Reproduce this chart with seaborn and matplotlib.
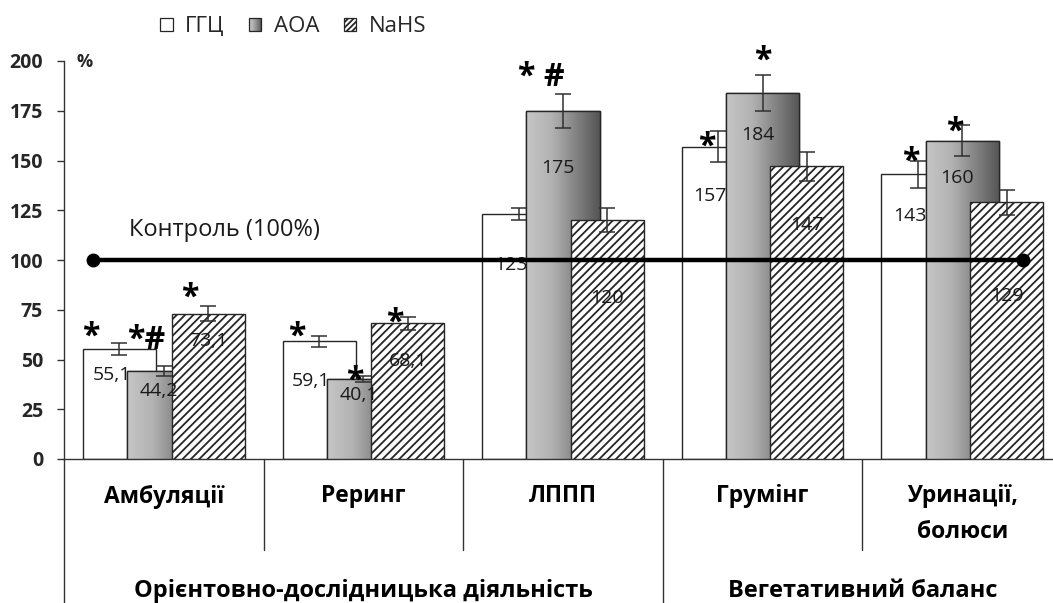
import numpy as np
import pandas as pd
import matplotlib
matplotlib.use("Agg")
import matplotlib.pyplot as plt
import seaborn as sns
from matplotlib.patches import Patch, Rectangle
from matplotlib.colors import LinearSegmentedColormap
from matplotlib.legend_handler import HandlerBase

# ---------------- data ----------------
categories = ["Амбуляції", "Реринг", "ЛППП", "Грумінг", "Уринації,\nболюси"]
groups = ["Орієнтовно-дослідницька діяльність", "Вегетативний баланс"]
group_sizes = [3, 2]
series = ["ГГЦ", "АОА", "NaHS"]
ggc = [55.1, 59.1, 123, 157, 143]
aoa = [44.2, 40.1, 175, 184, 160]
nahs = [73.1, 68.1, 120, 147, 129]
ggc_err = [3.0, 2.9, 3.1, 7.9, 7.0]
aoa_err = [2.3, 1.5, 8.6, 9.2, 7.7]
nahs_err = [3.8, 3.2, 6.1, 7.1, 6.4]
ggc_sig = ["*", "*", "", "*", "*"]
aoa_sig = ["*#", "*", "* #", "*", "*"]
nahs_sig = ["*", "*", "", "", ""]
control_value = 100
control_label = "Контроль (100%)"
y_ticks = [0, 25, 50, 75, 100, 125, 150, 175, 200]
y_unit = "%"

# ---------------- layout (not data) ----------------
step = 0.222          # offset between series bars (category units)
bar_w = 0.366         # drawn bar width (bars overlap)
label_dx = [-0.04, -0.025, 0.0]
label_drop = [[13, 20, 25.5, 25, 21],
              [10, 8, 29, 21, 19],
              [14, 19, 39, 29.5, 47]]
sig_dx = [[-0.145, -0.11, 0, -0.06, -0.035],
          [-0.09, -0.045, -0.11, 0.0, -0.035],
          [-0.09, -0.065, 0, 0, 0]]
sig_y = [[66.5, 66.5, 0, 162, 154.4],
         [65, 44.7, 197, 205.5, 169.5],
         [86, 73.5, 0, 0, 0]]

values = [ggc, aoa, nahs]
errs = [ggc_err, aoa_err, nahs_err]
sigs = [ggc_sig, aoa_sig, nahs_sig]

sns.set_theme(style="white")
plt.rcParams["font.family"] = ["Open Sans", "DejaVu Sans"]
plt.rcParams["hatch.linewidth"] = 1.3

df = pd.DataFrame({
    "category": categories * 3,
    "series": [s for s in series for _ in categories],
    "value": ggc + aoa + nahs,
})

fig = plt.figure(figsize=(10.53, 6.03), dpi=100)
ax = fig.add_axes([64 / 1053, 144 / 603, 998 / 1053, 398 / 603])

sns.barplot(data=df, x="category", y="value", hue="series", order=categories,
            hue_order=series, palette=["white", "#a8a8a8", "white"],
            width=3 * step, dodge=True, gap=0, edgecolor="#262626", linewidth=1.0,
            saturation=1, legend=False, errorbar=None, ax=ax)

grad_cmap = LinearSegmentedColormap.from_list(
    "g", [(0, "#c6c6c6"), (0.35, "#b2b2b2"), (1, "#545454")])
gradient = np.linspace(0, 1, 256).reshape(1, -1)

bar_containers = list(ax.containers)
centers = []
for i, cont in enumerate(bar_containers):
    cs = []
    for bar in cont.patches:
        cx = bar.get_x() + bar.get_width() / 2
        cs.append(cx)
        bar.set_x(cx - bar_w / 2)
        bar.set_width(bar_w)
        bar.set_zorder(2 + i)
        if i == 1:
            x0, y0 = bar.get_x(), bar.get_y()
            im = ax.imshow(gradient, cmap=grad_cmap, aspect="auto",
                           extent=[x0, x0 + bar_w, y0, y0 + bar.get_height()],
                           zorder=2 + i + 0.01, interpolation="bilinear")
            im.set_clip_path(bar)
            ax.add_patch(Rectangle((x0, y0), bar_w, bar.get_height(), fill=False,
                                   edgecolor="#262626", linewidth=1.0,
                                   zorder=2 + i + 0.02))
        if i == 2:
            bar.set_hatch("////")
    centers.append(cs)

for i in range(3):
    ax.errorbar(centers[i], values[i], yerr=errs[i], fmt="none", ecolor="#303030",
                elinewidth=1.1, capsize=5.5, capthick=1.1, zorder=2.5 + i)

# value labels
for i in range(3):
    for j, v in enumerate(values[i]):
        txt = f"{v:g}".replace(".", ",")
        ax.text(centers[i][j] + label_dx[i], v - label_drop[i][j], txt,
                ha="center", va="center", fontsize=14, color="#1a1a1a", zorder=5.5)

# significance marks
fs_sig = 23
for i in range(3):
    for j, s in enumerate(sigs[i]):
        if s:
            ax.annotate(s, (centers[i][j] + sig_dx[i][j], sig_y[i][j]),
                        xytext=(0, -0.6 * fs_sig), textcoords="offset points",
                        ha="center", va="baseline", fontsize=fs_sig,
                        fontweight="bold", color="black", zorder=7,
                        annotation_clip=False)

# control line
cx0, cx1 = 0 - 0.355, len(categories) - 1 + 0.307
ax.plot([cx0, cx1], [control_value, control_value], color="black", lw=3.2,
        marker="o", markersize=9, zorder=6, solid_capstyle="butt")
ax.text(0.302, 115, control_label, ha="center", va="center", fontsize=17,
        color="#1a1a1a")

# axes styling
ax.set_xlim(-0.5, len(categories) - 0.5)
ax.set_ylim(0, 200)
ax.set_yticks(y_ticks)
ax.set_yticklabels([str(t) for t in y_ticks], fontweight="bold", fontsize=14)
ax.tick_params(axis="y", direction="out", length=5, width=1.0, color="#333333",
               pad=10, left=True)
ax.set_xticks([])
ax.set_xlabel("")
ax.set_ylabel("")
sns.despine(ax=ax, top=True, right=True)
for sp in ["left", "bottom"]:
    ax.spines[sp].set_color("#333333")
    ax.spines[sp].set_linewidth(1.0)
ax.text(0.013, 0.998, y_unit, transform=ax.transAxes, ha="left", va="center",
        fontsize=13, fontweight="bold")

# multi-level category axis
xt = ax.get_xaxis_transform()
bounds_group = [-0.5]
for g in group_sizes:
    bounds_group.append(bounds_group[-1] + g)
for k in range(len(categories) + 1):
    b = k - 0.5
    ylow = -0.362 if b in bounds_group else -0.229
    ax.plot([b, b], [0, ylow], transform=xt, color="#333333", lw=1.0, clip_on=False)
for j, c in enumerate(categories):
    ax.text(j, -0.064, c, transform=xt, ha="center", va="top", fontsize=16.5,
            fontweight="bold", linespacing=1.65, color="black")
for gi, g in enumerate(groups):
    mid = (bounds_group[gi] + bounds_group[gi + 1]) / 2
    ax.text(mid, -0.346, g, transform=xt, ha="center", va="baseline", fontsize=17,
            fontweight="bold", color="black")

# legend
class GradientHandler(HandlerBase):
    def create_artists(self, legend, orig_handle, xdescent, ydescent, width,
                       height, fontsize, trans):
        arts = []
        n = 14
        for k in range(n):
            arts.append(Rectangle((-xdescent + width * k / n, -ydescent), width / n,
                                  height, facecolor=grad_cmap((k + 0.5) / n),
                                  edgecolor="none", transform=trans))
        arts.append(Rectangle((-xdescent, -ydescent), width, height, fill=False,
                              edgecolor="#262626", lw=0.9, transform=trans))
        return arts

h_white = Patch(facecolor="white", edgecolor="#262626", lw=0.9)
h_grad = Patch(facecolor="#999999", edgecolor="#262626", lw=0.9)
h_hatch = Patch(facecolor="white", edgecolor="#262626", hatch="//////", lw=0.9)
fig.legend([h_white, h_grad, h_hatch], series, loc="center left",
           bbox_to_anchor=(160 / 1053, 1 - 27 / 603), ncol=3, frameon=False,
           fontsize=16, handlelength=0.57, handleheight=0.57, handletextpad=0.55,
           columnspacing=1.1, borderpad=0, borderaxespad=0,
           handler_map={h_grad: GradientHandler()})

fig.savefig("out.png", dpi=100)
